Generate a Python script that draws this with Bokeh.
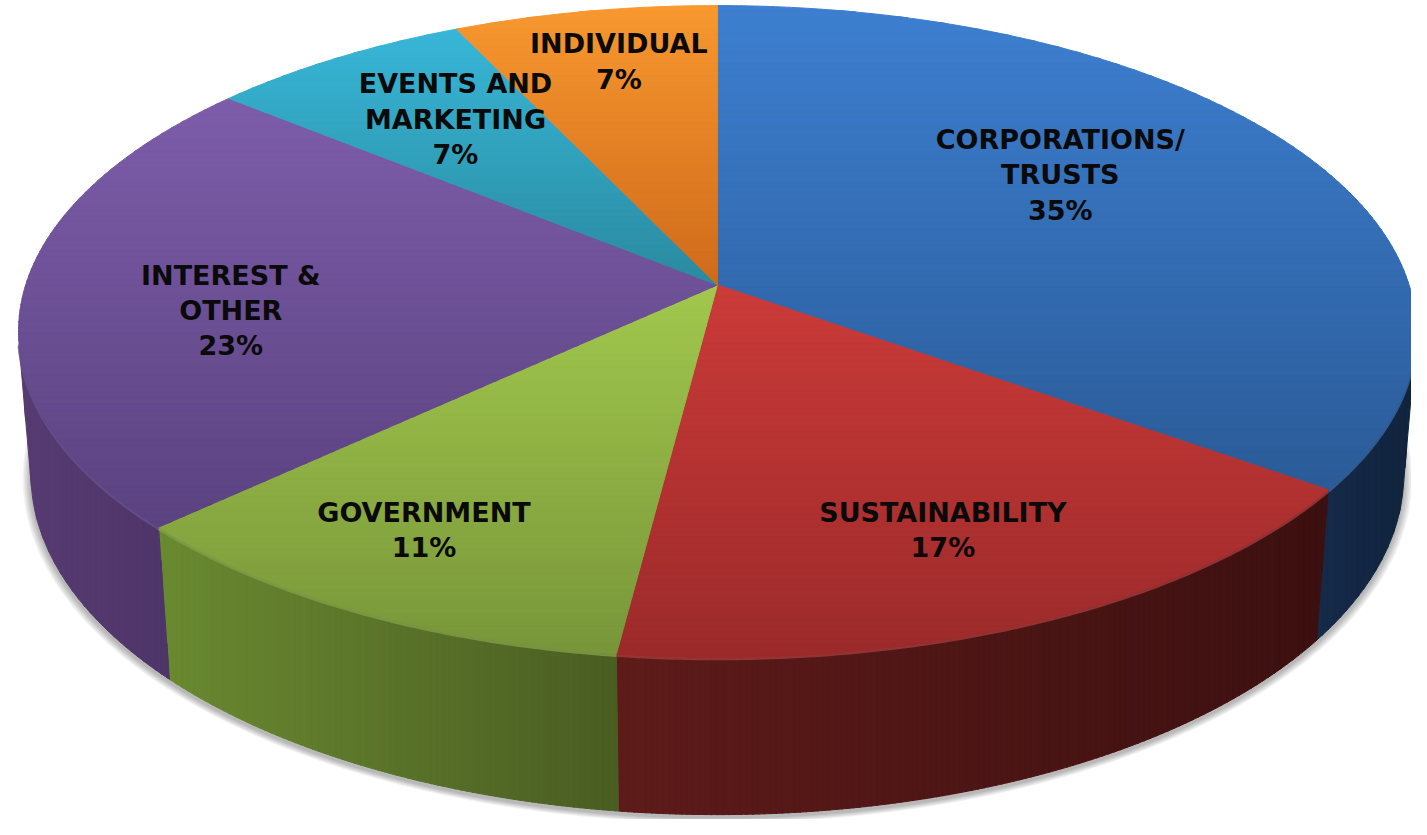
import numpy as np
from bokeh.plotting import figure
from bokeh.models import Range1d, ColumnDataSource
from bokeh.embed import file_html
from bokeh.resources import INLINE
from bokeh.core.properties import value

# ---------------- data ----------------
categories = ["Corporations/ Trusts", "Sustainability", "Government",
              "Interest & Other", "Events and Marketing", "Individual"]
label_lines = [["Corporations/", "Trusts"], ["Sustainability"], ["Government"],
               ["Interest &", "Other"], ["Events and", "Marketing"], ["Individual"]]
shares = [35, 17, 11, 23, 7, 7]
pct_labels = ["35%", "17%", "11%", "23%", "7%", "7%"]

# ---------------- styles ----------------
top_light = ["#3d7fd0", "#cb3b39", "#a2c84d", "#7d5daa", "#38b7d8", "#f8982f"]
top_dark = ["#2b5b98", "#9c2a2a", "#78963a", "#5b4280", "#2a8aa0", "#cf6a1b"]
wall_left = ["#152b4a", "#5e1b1a", "#6a8a31", "#573b72", "#2a8aa0", "#cf6a1b"]
wall_right = ["#11233c", "#3c1010", "#4a5d22", "#4e3568", "#2a8aa0", "#cf6a1b"]
label_r = [0.635, 0.752, 0.791, 0.70, 0.694, 0.794]      # radial position of labels
label_da = [7.8, -0.4, -1.9, 4.7, -1.7, -1.1]             # angular nudge (deg)
LINE_GAP = 36

# ---------------- projection (3D pie seen in perspective) ----------------
TILT = np.radians(27.73)
S, C = np.sin(TILT), np.cos(TILT)
DIST, FOCAL, THICK = 6.2, 4337.0, 0.2375
APEX_X, APEX_Y = 725.0, 290.0


def proj(X, Y, Z):
    X = np.asarray(X, float); Y = np.asarray(Y, float); Z = np.asarray(Z, float)
    up = Y * S + Z * C
    depth = DIST + Y * C - Z * S
    return APEX_X + FOCAL * X / depth, APEX_Y - FOCAL * up / depth


def arc(a0, a1, z, r=1.0):
    n = max(6, int(abs(a1 - a0) * 2))
    t = np.radians(np.linspace(a0, a1, n))
    return proj(r * np.cos(t), r * np.sin(t), np.full(n, z))


def hex2rgb(h):
    h = h.lstrip("#")
    return np.array([int(h[i:i + 2], 16) for i in (0, 2, 4)], float)


def mix(c0, c1, t):
    a, b = hex2rgb(c0), hex2rgb(c1)
    v = np.clip(np.round(a + (b - a) * t), 0, 255).astype(int)
    return "#%02x%02x%02x" % tuple(v)


def clip_half(poly, axis, val, keep_greater):
    out = []
    n = len(poly)
    for i in range(n):
        P, Q = poly[i], poly[(i + 1) % n]
        pin = P[axis] >= val if keep_greater else P[axis] <= val
        qin = Q[axis] >= val if keep_greater else Q[axis] <= val
        if pin:
            out.append(P)
        if pin != qin:
            t = (val - P[axis]) / (Q[axis] - P[axis])
            out.append((P[0] + t * (Q[0] - P[0]), P[1] + t * (Q[1] - P[1])))
    return out


def bands(xs, ys, axis, c0, c1, step=6.0):
    poly = list(zip(xs, ys))
    coords = np.array(xs if axis == 0 else ys)
    lo, hi = coords.min(), coords.max()
    res = []
    v = lo
    while v < hi:
        part = clip_half(poly, axis, v - 0.6, True)
        if part:
            part = clip_half(part, axis, v + step + 0.6, False)
        if len(part) >= 3:
            t = (min(v + step / 2, hi) - lo) / max(hi - lo, 1e-9)
            res.append(([q[0] for q in part], [q[1] for q in part], mix(c0, c1, t)))
        v += step
    return res


total = float(sum(shares))
bounds = 90 - 360 * np.concatenate([[0], np.cumsum(shares)]) / total
phi = np.degrees(np.arcsin(1.0 / (DIST * C)))
vis_lo, vis_hi = -180 + phi, -phi

p = figure(width=1411, height=819, x_range=Range1d(0, 1427), y_range=Range1d(835, 0),
           output_backend="svg", toolbar_location=None, min_border=0,
           x_axis_location=None, y_axis_location=None)
p.grid.visible = False
p.outline_line_color = None
p.background_fill_color = "white"
p.border_fill_color = "white"

# ---- soft shadow under the pie ----
for k in range(1, 7):
    bx, by = arc(0, 360, -THICK, r=1.0 + 0.002 * k)
    p.patch(bx, by + 3, fill_color="#000000", fill_alpha=0.05, line_color=None)

# ---- side walls ----
wx, wy, wc = [], [], []
rx, ry, rc = [], [], []
for i in range(len(shares)):
    a_hi, a_lo = bounds[i], bounds[i + 1]
    lo, hi = max(a_lo, vis_lo), min(a_hi, vis_hi)
    if hi <= lo:
        continue
    tx, ty = arc(lo, hi, 0.0)
    bx, by = arc(hi, lo, -THICK)
    xs = list(tx) + list(bx)
    ys = list(ty) + list(by)
    for bxs, bys, col in bands(xs, ys, 0, wall_left[i], wall_right[i]):
        wx.append(bxs); wy.append(bys); wc.append(col)
    rx.append(list(tx)); ry.append(list(ty + 1.5)); rc.append(mix(top_dark[i], "#ffffff", 0.08))
p.patches("xs", "ys", fill_color="c", line_color="c", line_width=1,
          source=ColumnDataSource(dict(xs=wx, ys=wy, c=wc)))
p.multi_line("xs", "ys", line_color="c", line_width=3, line_alpha=0.8,
             source=ColumnDataSource(dict(xs=rx, ys=ry, c=rc)))

# ---- top faces ----
fx, fy, fc = [], [], []
for i in range(len(shares)):
    ax_, ay_ = arc(bounds[i], bounds[i + 1], 0.0)
    xs = [APEX_X] + list(ax_)
    ys = [APEX_Y] + list(ay_)
    for bxs, bys, col in bands(xs, ys, 1, top_light[i], top_dark[i]):
        fx.append(bxs); fy.append(bys); fc.append(col)
p.patches("xs", "ys", fill_color="c", line_color="c", line_width=1,
          source=ColumnDataSource(dict(xs=fx, ys=fy, c=fc)))

# ---- labels ----
lx, ly, lt = [], [], []
for i in range(len(shares)):
    mid = (bounds[i] + bounds[i + 1]) / 2 + label_da[i]
    t = np.radians(mid)
    x0, y0 = proj(label_r[i] * np.cos(t), label_r[i] * np.sin(t), 0.0)
    lines = [s.upper() for s in label_lines[i]] + [pct_labels[i]]
    n = len(lines)
    for j, s in enumerate(lines):
        lx.append(float(x0)); ly.append(float(y0) + (j - (n - 1) / 2) * LINE_GAP); lt.append(s)
p.text("x", "y", text="t", source=ColumnDataSource(dict(x=lx, y=ly, t=lt)),
       text_font=value("DejaVu Sans"), text_font_style="bold", text_font_size="27px",
       text_align="center", text_baseline="middle", text_color="#0a0a0a")

open("out.html", "w").write(file_html(p, INLINE))
